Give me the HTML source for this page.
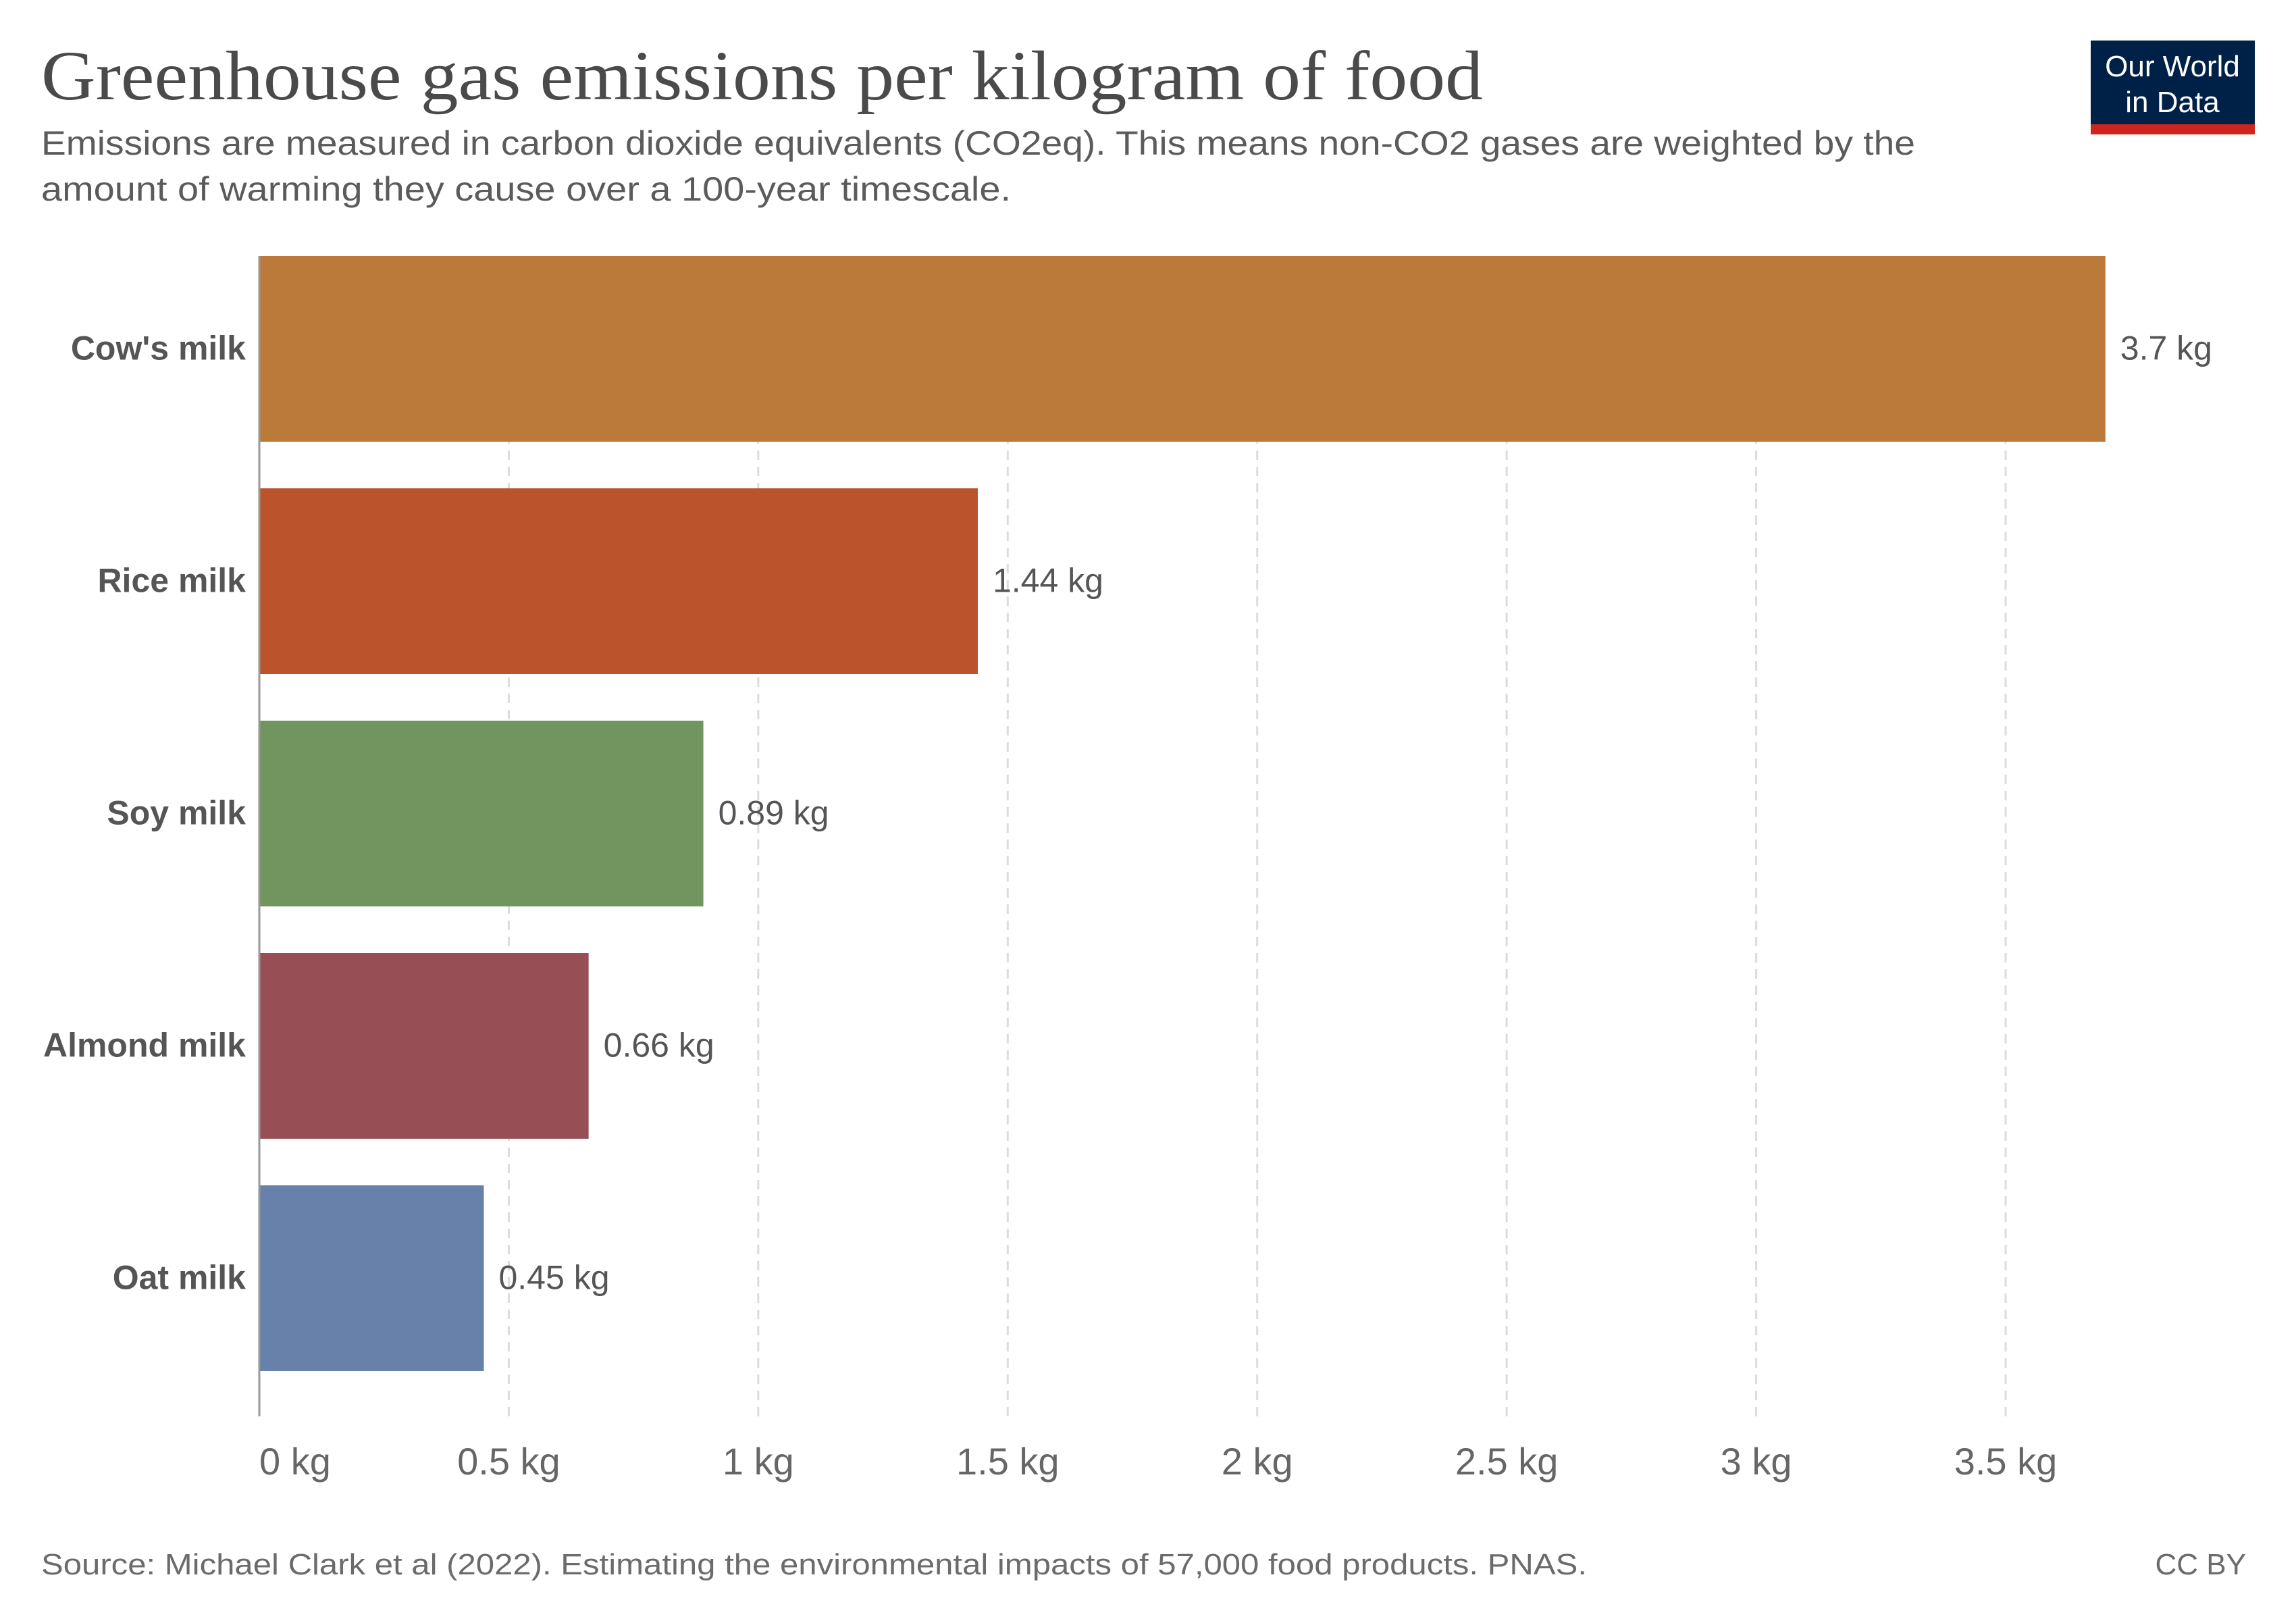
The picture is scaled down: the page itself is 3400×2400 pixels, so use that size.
<!DOCTYPE html>
<html><head><meta charset="utf-8">
<style>
html,body{margin:0;padding:0;background:#fff;}
svg{display:block;}
text{font-family:"Liberation Sans",sans-serif;}
</style></head>
<body>
<svg id="chart" width="3400" height="2400" viewBox="0 0 3400 2400" xmlns="http://www.w3.org/2000/svg">
  <text x="61" y="147" style="font-family:'Liberation Serif',serif" font-size="104" fill="#4a4a4a" textLength="2135" lengthAdjust="spacingAndGlyphs">Greenhouse gas emissions per kilogram of food</text>
  <text x="61" y="229" font-size="50" fill="#5b5b5b" textLength="2775" lengthAdjust="spacingAndGlyphs">Emissions are measured in carbon dioxide equivalents (CO2eq). This means non-CO2 gases are weighted by the</text>
  <text x="61" y="297" font-size="50" fill="#5b5b5b" textLength="1436" lengthAdjust="spacingAndGlyphs">amount of warming they cause over a 100-year timescale.</text>
  <g>
    <rect x="3096" y="60" width="243" height="139" fill="#002147"/>
    <rect x="3096" y="184" width="243" height="15" fill="#ce261e"/>
    <text x="3217" y="113" text-anchor="middle" font-size="44" fill="#fff">Our World</text>
    <text x="3217" y="166" text-anchor="middle" font-size="44" fill="#fff">in Data</text>
  </g>
  <g id="grid"></g>
  <g id="bars"></g>
  <g id="xticks"></g>
  <line x1="384" y1="379" x2="384" y2="2097" stroke="#999" stroke-width="3"/>
  <text x="61" y="2331" font-size="44" fill="#6b6b6b" textLength="2289" lengthAdjust="spacingAndGlyphs">Source: Michael Clark et al (2022). Estimating the environmental impacts of 57,000 food products. PNAS.</text>
  <text x="3326" y="2331" text-anchor="end" font-size="44" fill="#6b6b6b">CC BY</text>
</svg>
<script>
const categories = ["Cow's milk", "Rice milk", "Soy milk", "Almond milk", "Oat milk"];
const values = [3.7, 1.44, 0.89, 0.66, 0.45];
const valueLabels = ["3.7 kg", "1.44 kg", "0.89 kg", "0.66 kg", "0.45 kg"];
const barColors = ["#bc7a3a", "#bb532c", "#71955f", "#974f55", "#6881aa"];
const tickValues = [0, 0.5, 1, 1.5, 2, 2.5, 3, 3.5];
const tickLabels = ["0 kg", "0.5 kg", "1 kg", "1.5 kg", "2 kg", "2.5 kg", "3 kg", "3.5 kg"];

const NS = "http://www.w3.org/2000/svg";
const x0 = 384, x35 = 2970;
const xScale = v => x0 + (x35 - x0) * v / 3.5;
const top0 = 379, pitch = 344, barH = 275;
const yScale = i => top0 + i * pitch;

function mk(tag, attrs, parent) {
  const el = document.createElementNS(NS, tag);
  for (const k in attrs) el.setAttribute(k, attrs[k]);
  parent.appendChild(el);
  return el;
}

const grid = document.getElementById('grid');
const xt = document.getElementById('xticks');
tickValues.forEach((t, i) => {
  if (t > 0) {
    const g = mk('line', {x1: xScale(t), x2: xScale(t), y1: 379, y2: 2097, stroke: '#dcdcdc', 'stroke-width': 3, 'stroke-dasharray': '14,10'}, grid);
    
    
  }
  const lb = mk('text', {x: xScale(t), y: 2183, 'text-anchor': i === 0 ? 'start' : 'middle', 'font-size': 56, fill: '#666'}, xt);
  lb.textContent = tickLabels[i];
  
  
});

const bars = document.getElementById('bars');
categories.forEach((c, i) => {
  const y = yScale(i);
  const r = mk('rect', {x: x0, y: y, width: xScale(values[i]) - x0, height: barH, fill: barColors[i]}, bars);
  
  
  const cl = mk('text', {x: 364, y: y + barH / 2 + 16, 'text-anchor': 'end', 'font-size': 50, 'font-weight': 'bold', fill: '#555'}, bars);
  cl.textContent = c;
  
  
  const vl = mk('text', {x: xScale(values[i]) + 22, y: y + barH / 2 + 16, 'font-size': 50, fill: '#555'}, bars);
  vl.textContent = valueLabels[i];
  
  
});
</script>
</body></html>
